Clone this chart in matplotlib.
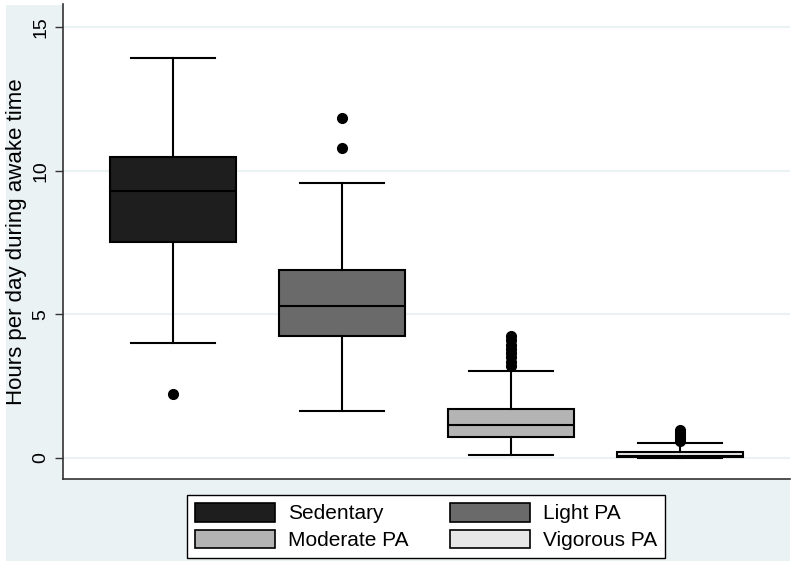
import matplotlib
matplotlib.use("Agg")
import matplotlib.pyplot as plt
from matplotlib.patches import Rectangle, Patch

plt.rcParams["font.family"] = ["Liberation Sans", "DejaVu Sans"]

# Dados
labels = ["Sedentary", "Light PA", "Moderate PA", "Vigorous PA"]
colors = ["#1e1e1e", "#6a6a6a", "#b4b4b4", "#e6e6e6"]
whislo = [4.0, 1.64, 0.09, 0.0]
q1 = [7.52, 4.25, 0.72, 0.02]
med = [9.29, 5.29, 1.16, 0.06]
q3 = [10.48, 6.54, 1.69, 0.20]
whishi = [13.92, 9.57, 3.04, 0.52]
fliers = [
    [2.23],
    [10.79, 11.83],
    [3.2, 3.35, 3.5, 3.65, 3.8, 3.95, 4.1, 4.25],
    [0.58, 0.66, 0.74, 0.82, 0.9, 0.98],
]
yticks = [0, 5, 10, 15]

fig = plt.figure(figsize=(8, 5.71), dpi=100)
fig.patch.set_facecolor("white")
# fundo azul claro estilo Stata
fig.patches.append(Rectangle((6 / 800, 1 - 561 / 571), 784 / 800, 556 / 571,
                             transform=fig.transFigure, facecolor="#eaf2f3",
                             edgecolor="none", zorder=-10))

ax = fig.add_axes([63 / 800, 1 - 479 / 571, 727 / 800, 475 / 571])
ax.set_facecolor("white")

stats = []
for i in range(4):
    stats.append(dict(whislo=whislo[i], q1=q1[i], med=med[i], q3=q3[i],
                      whishi=whishi[i], fliers=fliers[i]))

bp = ax.bxp(stats, positions=[1, 2, 3, 4], widths=0.75, patch_artist=True,
            boxprops=dict(edgecolor="black", linewidth=1.5),
            medianprops=dict(color="black", linewidth=1.5),
            whiskerprops=dict(color="black", linewidth=1.5),
            capprops=dict(color="black", linewidth=1.5),
            capwidths=0.5,
            flierprops=dict(marker="o", markerfacecolor="black",
                            markeredgecolor="black", markersize=7))
for box, c in zip(bp["boxes"], colors):
    box.set_facecolor(c)

ax.set_xlim(0.349, 4.651)
ax.set_ylim(-0.73, 15.8)
ax.set_yticks(yticks)
ax.set_yticklabels([str(t) for t in yticks], rotation=90, va="center", fontsize=14)
ax.set_xticks([])
ax.yaxis.grid(True, color="#eaf2f3", linewidth=1.5)
ax.set_axisbelow(True)
ax.tick_params(axis="y", length=6, width=1, color="#333333", pad=4)
for s in ["top", "right"]:
    ax.spines[s].set_visible(False)
for s in ["left", "bottom"]:
    ax.spines[s].set_color("#333333")
    ax.spines[s].set_linewidth(1.2)
ax.set_ylabel("Hours per day during awake time", fontsize=16, labelpad=4)

handles = [Patch(facecolor=c, edgecolor="black", linewidth=1.2) for c in colors]
order = [0, 2, 1, 3]  # preencher por linha como no Stata
leg = fig.legend([handles[i] for i in order], [labels[i] for i in order],
                 ncol=2, loc="center",
                 bbox_to_anchor=(426 / 800, 1 - 526.5 / 571), fontsize=15,
                 frameon=True, fancybox=False, edgecolor="black", framealpha=1,
                 handlelength=3.85, handleheight=1.0, labelspacing=0.3,
                 columnspacing=2.0, borderpad=0.4, handletextpad=0.6)
leg.get_frame().set_linewidth(1.0)

fig.savefig("out.png", dpi=100)
